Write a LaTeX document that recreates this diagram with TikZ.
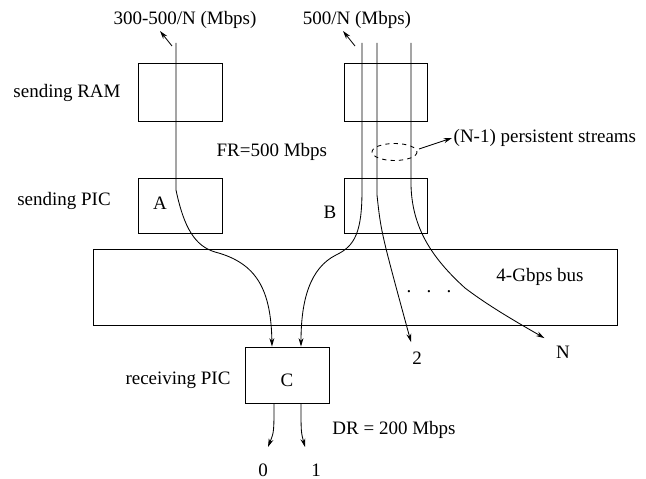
\documentclass[tikz,border=0pt]{standalone}
\usepackage{fontspec}
\setmainfont{Liberation Serif}
\usetikzlibrary{arrows.meta, positioning, calc}
\tikzset{
  every node/.style={
    font=\fontsize{13.5}{16}\selectfont,
    inner sep=1pt
  },
  box/.style={
    draw,
    line width=0.6pt,
    minimum width=2.1cm,
    minimum height=1.45cm
  },
  stream/.style={
    line width=0.6pt
  },
  flow/.style={
    -{Stealth[length=6pt,width=3.5pt]},
    line width=0.6pt
  }
}

\begin{document}
\begin{tikzpicture}[x=0.025cm, y=-0.025cm]
  \useasboundingbox (0,0) rectangle (646,479);

  % boxes
  \node[box] (ramA) at (180,92) {};
  \node[box, minimum height=1.375cm] (picA) at (180,205.5) {};
  \node[box, minimum width=2.075cm] (ramB) at (385.5,92) {};
  \node[box, minimum width=2.075cm, minimum height=1.375cm] (picB) at (385.5,205.5) {};
  \node[box, minimum width=13.1cm, minimum height=1.9cm] (bus) at (355,287) {};
  \node[box, minimum height=1.4cm] (picC) at (287,375) {};

  % labels
  \node (rateA) at (185,20) {300-500/N (Mbps)};
  \node (rateB) at (357,20) {500/N (Mbps)};
  \node at (67,93) {sending RAM};
  \node at (64,201) {sending PIC};
  \node at (178,380) {receiving PIC};
  \node at (160,203) {A};
  \node at (330,212) {B};
  \node at (287,380) {C};
  \node[anchor=west] at (215,152) {FR=500 Mbps};
  \node (pers) [anchor=west] at (452,138) {(N-1) persistent streams};
  \node at (540,277) {4-Gbps bus};
  \node at (429,292) {.\hspace{0.8em}.\hspace{0.8em}.};
  \node (out2) at (417,358) {2};
  \node (outN) at (563,352) {N};
  \node (out0) at (263,470) {0};
  \node (out1) at (316,470) {1};
  \node at (394,430) {DR = 200 Mbps};

  % stream end points
  \coordinate (sA) at (176,43);
  \coordinate (sB1) at (362,43);
  \coordinate (sB2) at (377,43);
  \coordinate (sB3) at (411,43);
  \coordinate (inC0) at ($(picC.north)+(-15,0)$);
  \coordinate (inC1) at ($(picC.north)+(14,0)$);
  \coordinate (outC0) at ($(picC.south)+(-13,0)$);
  \coordinate (outC1) at ($(picC.south)+(14,0)$);

  % streams
  \draw[flow] (sA) -- (176,190) .. controls (184,228) and (195,246) .. (215,252)
        .. controls (257,263) and (271,290) .. (inC0);
  \draw[flow] (sB1) -- (362,190) .. controls (362,232) and (355,246) .. (336,255)
        .. controls (310,268) and (301,300) .. (inC1);
  \draw[flow] (sB2) -- (377,195) .. controls (381,232) .. ($(out2.north)+(-6,-8)$);
  \draw[flow] (sB3) -- (411,185) .. controls (412,228) and (432,258) .. (465,288)
        .. controls (490,307) and (520,324) .. ($(outN.north west)+(-10,-6)$);
  \draw[flow] (outC0) .. controls (274,432) .. (268,447);
  \draw[flow] (outC1) .. controls (301,432) .. (305,447);

  % rate pointers
  \draw[flow] ($(sA)+(-4,3)$) -- (160,31);
  \draw[flow] ($(sB1)+(-7,3)$) -- (343,31);

  % persistent streams
  \draw[dashed, line width=0.6pt] (394.5,152) ellipse [x radius=22.5, y radius=8.5];
  \draw[flow] (419,149) -- (pers.west);
\end{tikzpicture}
\end{document}
